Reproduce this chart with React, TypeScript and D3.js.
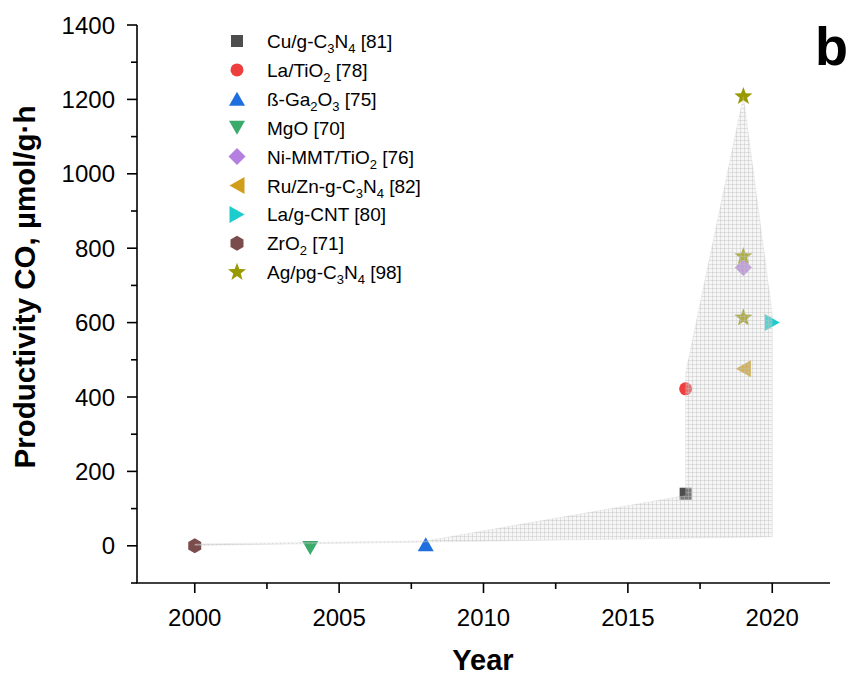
import React from "react";
import * as d3 from "d3";

// ---------- data ----------
const seriesNames = [
  "Cu/g-C_3N_4 [81]",
  "La/TiO_2 [78]",
  "ß-Ga_2O_3 [75]",
  "MgO [70]",
  "Ni-MMT/TiO_2 [76]",
  "Ru/Zn-g-C_3N_4 [82]",
  "La/g-CNT [80]",
  "ZrO_2 [71]",
  "Ag/pg-C_3N_4 [98]",
];
const seriesShapes = ["square", "circle", "triUp", "triDown", "diamond", "triLeft", "triRight", "hexagon", "star"];
const seriesColors = ["#4d4d4d", "#ef3e3e", "#1f6fdf", "#3aab6b", "#b47fe0", "#d19e1a", "#1dcccc", "#7b4c4c", "#999900"];
const seriesYears = [[2017], [2017], [2008], [2004], [2019], [2019], [2020], [2000], [2019, 2019, 2019]];
const seriesValues = [[140], [422], [4], [-6], [748], [476], [600], [0], [1208, 778, 613]];

// shaded envelope outline (year, value)
const areaYears = [2000, 2008, 2017, 2017, 2019, 2020, 2020, 2008, 2000];
const areaValues = [5, 13, 135, 465, 1208, 622, 24, 10, 1];

const xTicks = [2000, 2005, 2010, 2015, 2020];
const xMinor = [2002.5, 2007.5, 2012.5, 2017.5];
const yTicks = [0, 200, 400, 600, 800, 1000, 1200, 1400];
const yMinor = [-100, 100, 300, 500, 700, 900, 1100, 1300];

const FONT = "'Liberation Sans', Arial, Helvetica, sans-serif";

function markerPath(shape: string): string {
  switch (shape) {
    case "square":
      return "M-6,-6H6V6H-6Z";
    case "circle":
      return "M6.5,0A6.5,6.5 0 1 1 -6.5,0A6.5,6.5 0 1 1 6.5,0Z";
    case "triUp":
      return "M0,-7L8,7L-8,7Z";
    case "triDown":
      return "M0,7L8,-7L-8,-7Z";
    case "triLeft":
      return "M-7.5,0L7.5,-8.5L7.5,8.5Z";
    case "triRight":
      return "M7.5,0L-7.5,-8.5L-7.5,8.5Z";
    case "diamond":
      return "M0,-8.5L8.5,0L0,8.5L-8.5,0Z";
    case "hexagon": {
      const pts = d3.range(6).map((i) => {
        const a = (Math.PI / 3) * i - Math.PI / 2;
        return [7.5 * Math.cos(a), 7.5 * Math.sin(a)];
      });
      return "M" + pts.map((p) => p.join(",")).join("L") + "Z";
    }
    case "star": {
      const pts = d3.range(10).map((i) => {
        const r = i % 2 === 0 ? 9.5 : 3.9;
        const a = (Math.PI / 5) * i - Math.PI / 2;
        return [r * Math.cos(a), r * Math.sin(a)];
      });
      return "M" + pts.map((p) => p.map((v) => v.toFixed(2)).join(",")).join("L") + "Z";
    }
  }
  return "";
}

function LabelText({ text, x, y }: { text: string; x: number; y: number }) {
  const parts = text.split(/(_\d)/).filter((s) => s.length > 0);
  let prevSub = false;
  return (
    <text x={x} y={y} fontFamily={FONT} fontSize={19} fill="#000">
      {parts.map((p, i) => {
        const isSub = p.startsWith("_");
        const dy = isSub && !prevSub ? 5 : !isSub && prevSub ? -5 : 0;
        prevSub = isSub;
        return (
          <tspan key={i} dy={dy} fontSize={isSub ? 13 : 19}>
            {isSub ? p.slice(1) : p}
          </tspan>
        );
      })}
    </text>
  );
}

export default function App() {
  const W = 853;
  const H = 675;
  const x = d3.scaleLinear().domain([1998, 2022]).range([137, 830]);
  const y = d3.scaleLinear().domain([-100, 1400]).range([583, 25]);

  const areaPts: [number, number][] = areaYears.map((yr, i) => [x(yr), y(areaValues[i])]);
  const areaPath = d3.line()(areaPts) + "Z";

  const legendX = 237;
  const legendY0 = 41;
  const legendDy = 28.9;

  return (
    <div style={{ position: "absolute", left: 0, top: 0 }}>
      <svg width={W} height={H} viewBox={`0 0 ${W} ${H}`} style={{ display: "block" }}>
        <defs>
          <pattern id="grid" patternUnits="userSpaceOnUse" width={4} height={4}>
            <rect x={0} y={0} width={4} height={4} fill="rgba(225,225,225,0.3)" />
            <rect x={0} y={0} width={4} height={1} fill="rgba(190,190,190,0.4)" />
            <rect x={0} y={0} width={1} height={4} fill="rgba(190,190,190,0.4)" />
          </pattern>
        </defs>
        <rect x={0} y={0} width={W} height={H} fill="#fff" />

        {/* markers */}
        {seriesNames.map((_, si) =>
          seriesYears[si].map((yr, j) => (
            <path
              key={`${si}-${j}`}
              d={markerPath(seriesShapes[si])}
              transform={`translate(${x(yr)},${y(seriesValues[si][j])})`}
              fill={seriesColors[si]}
            />
          ))
        )}

        {/* shaded envelope on top */}
        <path d={areaPath} fill="url(#grid)" stroke="rgba(190,190,190,0.35)" strokeWidth={0.6} />

        {/* axes */}
        <line x1={x(1998)} x2={x(1998)} y1={y(1400)} y2={y(-100)} stroke="#000" strokeWidth={1.6} />
        <line x1={x(1998) - 0.8} x2={x(2022)} y1={y(-100)} y2={y(-100)} stroke="#000" strokeWidth={1.6} />
        {yTicks.map((t) => (
          <g key={`yt${t}`}>
            <line x1={x(1998) - 10} x2={x(1998)} y1={y(t)} y2={y(t)} stroke="#000" strokeWidth={1.6} />
            <text
              x={x(1998) - 22}
              y={y(t)}
              textAnchor="end"
              dominantBaseline="central"
              fontFamily={FONT}
              fontSize={24}
            >
              {t}
            </text>
          </g>
        ))}
        {yMinor.map((t) => (
          <line key={`ym${t}`} x1={x(1998) - 6} x2={x(1998)} y1={y(t)} y2={y(t)} stroke="#000" strokeWidth={1.6} />
        ))}
        {xTicks.map((t) => (
          <g key={`xt${t}`}>
            <line x1={x(t)} x2={x(t)} y1={y(-100)} y2={y(-100) + 10} stroke="#000" strokeWidth={1.6} />
            <text x={x(t)} y={626} textAnchor="middle" fontFamily={FONT} fontSize={24}>
              {t}
            </text>
          </g>
        ))}
        {xMinor.map((t) => (
          <line key={`xm${t}`} x1={x(t)} x2={x(t)} y1={y(-100)} y2={y(-100) + 6} stroke="#000" strokeWidth={1.6} />
        ))}

        {/* axis titles */}
        <text x={483} y={670} textAnchor="middle" fontFamily={FONT} fontSize={29} fontWeight="bold">
          Year
        </text>
        <text
          transform={`translate(35,287) rotate(-90)`}
          textAnchor="middle"
          fontFamily={FONT}
          fontSize={29.5}
          fontWeight="bold"
        >
          Productivity CO, µmol/g·h
        </text>

        {/* panel letter */}
        <text x={815} y={65} fontFamily={FONT} fontSize={54} fontWeight="bold">
          b
        </text>

        {/* legend */}
        {seriesNames.map((name, i) => {
          const ly = legendY0 + i * legendDy;
          return (
            <g key={`lg${i}`}>
              <path d={markerPath(seriesShapes[i])} transform={`translate(${legendX},${ly})`} fill={seriesColors[i]} />
              <LabelText text={name} x={legendX + 30} y={ly + 7} />
            </g>
          );
        })}
      </svg>
    </div>
  );
}
